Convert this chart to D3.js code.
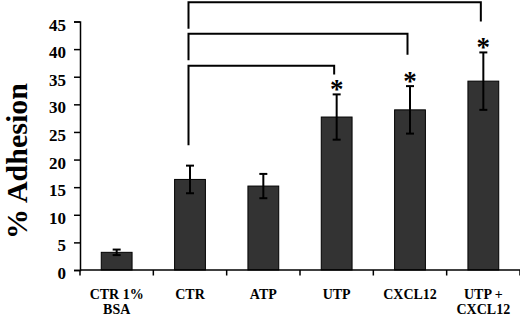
<!DOCTYPE html>
<html>
<head>
<meta charset="utf-8">
<script src="https://cdn.jsdelivr.net/npm/d3@7"></script>
<style>
  body { margin:0; background:#fff; }
  svg { display:block; }
  text { font-family:"Liberation Serif","Times New Roman",serif; font-weight:bold; fill:#000; }
</style>
</head>
<body>
<svg></svg>
<script>

// data
var categories = ["CTR 1%\nBSA", "CTR", "ATP", "UTP", "CXCL12", "UTP +\nCXCL12"];
var means = [3.2, 16.4, 15.2, 27.7, 29.0, 34.2];
var errors = [0.5, 2.5, 2.2, 4.1, 4.3, 5.2];
var starred = [false, false, false, true, true, true];
var yTicks = [0, 5, 10, 15, 20, 25, 30, 35, 40, 45];

// comparison brackets, all from CTR
var bracketTo = ["UTP", "CXCL12", "UTP +\nCXCL12"];
var bracketTop = [37.0, 42.8, 48.5];
var bracketLeftEnd = [22.6, 38.0, 43.7];
var bracketRightEnd = [35.4, 39.0, 45.0];

var screen = { width:520, height:318 };
var margins = { top:21.5, left:80, bottom:48, right:0 };

var width = screen.width - margins.left - margins.right;
var height = screen.height - margins.top - margins.bottom;

var svg = d3.select("svg").attr("width", screen.width).attr("height", screen.height);

var xScale = d3.scaleBand()
  .domain(categories)
  .range([0, width])
  .paddingInner(0.58)
  .paddingOuter(0.29);

var yScale = d3.scaleLinear()
  .domain([0, 45])
  .range([height, 0]);

var plot = svg.append("g")
  .attr("transform", "translate(" + margins.left + "," + margins.top + ")");

var cx = function(c) { return xScale(c) + xScale.bandwidth() / 2; };

// bars
plot.selectAll("rect.bar")
  .data(categories)
  .enter()
  .append("rect")
  .attr("class", "bar")
  .attr("x", function(d) { return xScale(d); })
  .attr("width", xScale.bandwidth())
  .attr("y", function(d, i) { return yScale(means[i]); })
  .attr("height", function(d, i) { return height - yScale(means[i]); })
  .attr("fill", "#333333")
  .attr("stroke", "#000")
  .attr("stroke-width", 1);

// error bars
var err = plot.selectAll("g.err")
  .data(categories)
  .enter()
  .append("g")
  .attr("class", "err")
  .attr("stroke", "#000")
  .attr("stroke-width", 2);

err.append("line")
  .attr("x1", cx).attr("x2", cx)
  .attr("y1", function(d, i) { return yScale(means[i] + errors[i]); })
  .attr("y2", function(d, i) { return yScale(means[i] - errors[i]); });

[1, -1].forEach(function(s) {
  err.append("line")
    .attr("x1", function(d) { return cx(d) - 4; })
    .attr("x2", function(d) { return cx(d) + 4; })
    .attr("y1", function(d, i) { return yScale(means[i] + s * errors[i]); })
    .attr("y2", function(d, i) { return yScale(means[i] + s * errors[i]); });
});

// asterisks
plot.selectAll("text.star")
  .data(categories.filter(function(d, i) { return starred[i]; }))
  .enter()
  .append("text")
  .attr("class", "star")
  .attr("x", cx)
  .attr("y", function(d) {
    var i = categories.indexOf(d);
    return yScale(means[i] + errors[i]) + 4;
  })
  .attr("text-anchor", "middle")
  .style("font-size", "27px")
  .text("*");

// brackets
var bracketLine = d3.line();
plot.selectAll("path.bracket")
  .data(bracketTo)
  .enter()
  .append("path")
  .attr("class", "bracket")
  .attr("fill", "none")
  .attr("stroke", "#000")
  .attr("stroke-width", 2)
  .attr("d", function(d, i) {
    var x0 = cx("CTR") - 1.5, x1 = cx(d) - 2.5;
    return bracketLine([
      [x0, yScale(bracketLeftEnd[i])],
      [x0, yScale(bracketTop[i])],
      [x1, yScale(bracketTop[i])],
      [x1, yScale(bracketRightEnd[i])]
    ]);
  });

// y axis
var yAxis = d3.axisLeft(yScale)
  .tickValues(yTicks)
  .tickSize(6)
  .tickPadding(8);

var yG = plot.append("g").call(yAxis).attr("font-family", null);
yG.select(".domain").attr("stroke-width", 1.5);
yG.selectAll(".tick line").attr("stroke-width", 1.5);
yG.selectAll(".tick text")
  .attr("dy", "0.5em")
  .style("font-size", "17px");

// x axis: line with ticks on band edges, labels in the middle
var edges = d3.range(categories.length + 1).map(function(i) { return i * xScale.step(); });
var xG = plot.append("g").attr("transform", "translate(0," + height + ")");
xG.append("line")
  .attr("x1", 0).attr("x2", width)
  .attr("stroke", "#000").attr("stroke-width", 1.5);
xG.selectAll("line.edge")
  .data(edges)
  .enter()
  .append("line")
  .attr("class", "edge")
  .attr("x1", function(d) { return d; }).attr("x2", function(d) { return d; })
  .attr("y1", 0).attr("y2", 5.5)
  .attr("stroke", "#000").attr("stroke-width", 1.5);

var lab = xG.selectAll("text.lab")
  .data(categories)
  .enter()
  .append("text")
  .attr("class", "lab")
  .attr("text-anchor", "middle")
  .style("font-size", "14px")
  .attr("transform", function(d) { return "translate(" + cx(d) + ",29)"; });

lab.selectAll("tspan")
  .data(function(d) { return d.split("\n"); })
  .enter()
  .append("tspan")
  .attr("x", 0)
  .attr("dy", function(d, i) { return i ? 15 : 0; })
  .text(function(d) { return d; });

// y title
svg.append("text")
  .attr("transform", "translate(27," + 161 + ") rotate(-90)")
  .attr("text-anchor", "middle")
  .style("font-size", "30px")
  .text("% Adhesion");

</script>
</body>
</html>
